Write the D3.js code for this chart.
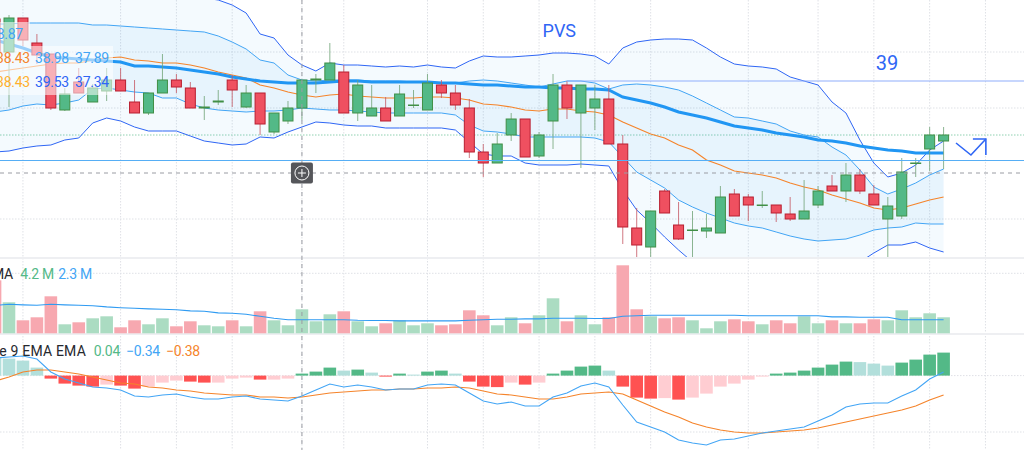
<!DOCTYPE html>
<html>
<head>
<meta charset="utf-8">
<script src="https://cdn.jsdelivr.net/npm/d3@7"></script>
<style>
  html, body { margin: 0; padding: 0; background: #fff; overflow: hidden; }
  svg { display: block; font-family: Roboto, sans-serif; }
</style>
</head>
<body>
<div id="chart"></div>
<script>
// bar numbers start at -1, the first candle is cut off by the left edge
const opens = [42.02,41.36,42.04,41.54,41.32,40.20,40.76,40.36,40.58,40.80,40.36,40.14,40.54,40.80,40.64,40.24,40.36,40.80,40.26,40.54,39.76,39.98,40.24,40.80,40.80,40.96,40.14,40.08,40.24,40.08,40.30,40.20,40.70,40.54,40.24,39.36,39.14,39.70,40.02,39.28,39.98,40.70,40.14,40.24,40.42,39.52,37.84,37.46,38.58,37.90,37.80,37.78,37.74,38.52,38.46,38.30,38.30,38.12,38.02,38.30,38.68,38.58,38.90,38.52,38.02,38.08,39.14,39.42,39.58];
const closes = [41.36,42.04,41.60,41.30,40.24,40.52,40.54,40.64,40.80,40.58,40.14,40.54,40.80,40.66,40.24,40.26,40.38,40.60,40.54,39.92,40.14,40.24,40.80,40.82,41.14,40.14,40.70,40.24,39.98,40.52,40.30,40.74,40.54,40.30,39.36,39.14,39.52,40.02,39.26,39.70,40.70,40.24,40.70,40.42,39.52,37.86,37.50,38.18,38.14,37.62,37.80,37.84,38.46,38.08,38.30,38.30,38.14,38.02,38.18,38.58,38.58,38.90,38.58,38.30,38.28,38.96,39.14,39.70,39.70];
const highs = [42.50,42.10,42.04,41.72,41.32,40.64,41.04,40.72,41.04,41.04,40.80,40.54,41.32,40.92,40.76,40.48,40.60,40.90,40.70,40.54,40.14,40.38,40.80,40.92,41.54,41.10,40.80,40.70,40.46,40.70,40.60,40.92,40.80,40.70,40.42,39.52,39.74,40.14,40.02,39.76,40.92,40.78,40.70,40.70,40.70,39.70,38.24,38.18,38.62,38.36,38.18,38.12,38.68,38.62,38.52,38.58,38.30,38.46,38.80,38.68,38.90,39.14,39.02,38.70,38.46,39.24,39.24,39.86,39.86];
const lows = [41.24,40.26,41.48,41.12,40.20,40.18,40.54,40.36,40.38,40.58,40.14,40.10,40.54,40.54,40.24,40.00,40.30,40.26,40.24,39.70,39.72,39.92,40.00,40.54,40.80,40.14,39.98,40.08,39.98,40.08,40.24,40.20,40.44,40.20,39.24,38.86,39.14,39.58,39.26,39.24,39.42,40.02,39.04,39.80,39.52,37.52,37.26,37.20,38.14,37.60,37.20,37.64,37.74,38.08,37.98,38.24,37.96,37.98,38.02,38.24,38.58,38.36,38.52,38.30,37.20,38.02,38.86,38.98,39.02];

const upperOuter = [43.20,43.12,43.06,43.00,42.94,42.88,42.82,42.78,42.74,42.70,42.64,42.60,42.56,42.52,42.48,42.44,42.40,42.30,42.14,41.72,41.64,41.30,41.10,40.98,41.14,41.10,41.10,41.08,41.06,41.08,41.06,41.10,41.06,41.04,41.18,41.28,41.26,41.26,41.28,41.30,41.34,41.34,41.32,41.28,41.12,41.44,41.56,41.60,41.62,41.62,41.60,41.44,41.26,41.12,41.08,41.06,41.02,40.86,40.78,40.70,40.36,40.14,39.60,39.14,38.86,38.94,39.10,39.40,39.58];
const upperInner = [41.92,41.92,41.94,41.94,41.94,41.94,41.94,41.90,41.90,41.88,41.86,41.84,41.82,41.80,41.78,41.76,41.68,41.56,41.42,41.20,41.14,40.90,40.80,40.78,40.80,40.80,40.80,40.78,40.78,40.78,40.76,40.76,40.74,40.74,40.78,40.80,40.78,40.74,40.70,40.66,40.72,40.78,40.78,40.74,40.62,40.70,40.72,40.70,40.66,40.60,40.48,40.34,40.20,40.06,40.04,39.98,39.92,39.78,39.70,39.66,39.46,39.30,39.00,38.66,38.52,38.62,38.74,38.90,39.02];
const basis = [40.96,41.00,41.04,41.08,41.12,41.14,41.14,41.20,41.24,41.26,41.20,41.18,41.14,41.14,41.10,41.04,40.96,40.90,40.84,40.70,40.64,40.56,40.50,40.46,40.50,40.52,40.48,40.46,40.44,40.44,40.44,40.46,40.46,40.44,40.40,40.32,40.30,40.26,40.20,40.18,40.22,40.22,40.18,40.16,40.10,39.96,39.84,39.72,39.64,39.50,39.40,39.20,39.10,38.98,38.94,38.90,38.84,38.74,38.66,38.60,38.50,38.42,38.34,38.24,38.20,38.24,38.32,38.40,38.46];
const lowerInner = [40.16,40.20,40.28,40.32,40.30,40.34,40.40,40.62,40.64,40.60,40.56,40.54,40.44,40.44,40.32,40.24,40.20,40.18,40.16,40.18,40.18,40.20,40.24,40.22,40.20,40.20,40.18,40.16,40.14,40.14,40.14,40.14,40.14,40.10,39.90,39.78,39.76,39.72,39.66,39.66,39.66,39.66,39.66,39.64,39.56,39.26,38.96,38.80,38.64,38.40,38.26,38.14,38.04,37.94,37.88,37.84,37.76,37.68,37.62,37.58,37.60,37.62,37.70,37.80,37.84,37.86,37.94,37.92,37.92];
const lowerOuter = [39.36,39.38,39.44,39.48,39.50,39.60,39.64,39.94,40.04,39.98,39.86,39.78,39.78,39.78,39.68,39.58,39.54,39.50,39.52,39.66,39.64,39.76,39.86,39.96,39.94,39.90,39.88,39.88,39.84,39.84,39.84,39.84,39.84,39.80,39.56,39.32,39.28,39.28,39.14,39.10,39.10,39.10,39.12,39.10,39.08,38.60,38.20,37.94,37.66,37.40,37.16,37.00,36.84,36.72,36.64,36.60,36.56,36.52,36.50,36.48,36.52,36.70,37.16,37.34,37.50,37.50,37.56,37.44,37.36];
const ema = [41.60,41.52,41.44,41.34,41.26,41.24,41.22,41.20,41.18,41.16,41.08,41.08,41.06,41.04,41.00,40.96,40.92,40.86,40.82,40.78,40.76,40.74,40.74,40.74,40.76,40.78,40.78,40.76,40.76,40.76,40.76,40.76,40.74,40.74,40.72,40.70,40.70,40.68,40.66,40.66,40.64,40.64,40.62,40.62,40.60,40.46,40.40,40.34,40.26,40.16,40.10,40.04,39.96,39.88,39.84,39.80,39.74,39.70,39.66,39.60,39.58,39.54,39.48,39.44,39.40,39.38,39.34,39.34,39.34];

// volume in millions
const volumes = [13.25,7.75,3.25,4,9.25,2.25,2.75,3.75,4.25,1.5,3.25,2.25,3.75,1.75,3,2,1.75,3.25,1.75,5.5,3.25,2,6,3,4.75,5.5,3,1.75,2.5,3.25,2,2.5,2,2.25,5.75,4.5,2,4,2.5,4.5,8.75,3,4.5,2.25,4,17,6,4.25,3.75,4,3.25,1.25,3,3.5,3,2.25,3.25,2.5,4.25,2.5,3.25,2.5,2.5,3.5,3.25,5.75,4,5,4];
const volumeMa = [7,7.25,7.1,7,7.25,7.1,7,6.9,6.6,6.4,6.25,6.1,6,5.9,5.6,5.5,5.1,5,4.75,4.25,3.75,3.4,3.4,3.4,3.4,3.4,3.25,3.2,3.2,3.1,3.1,3.1,3.1,3.1,3.25,3.4,3.5,3.5,3.6,3.6,3.75,3.75,3.75,3.7,3.7,4.25,4.4,4.5,4.5,4.5,4.5,4.5,4.5,4.5,4.4,4.4,4.4,4.4,4.4,4.4,4.1,4.1,4,4,4,3.4,3.4,3.4,3.4];

const histogram = [.036,.034,.03,.016,-.006,-.016,-.02,-.022,-.018,-.02,-.026,-.022,-.014,-.01,-.012,-.014,-.014,-.006,-.004,-.008,-.008,-.006,.004,.008,.016,.01,.012,.006,-.002,.004,.002,.008,.01,.004,-.012,-.022,-.023,-.014,-.018,-.014,.004,.01,.018,.02,.01,-.022,-.044,-.046,-.045,-.048,-.044,-.036,-.022,-.016,-.008,-.002,.004,.006,.01,.016,.022,.028,.027,.024,.02,.026,.032,.042,.046];
const macd = [-.312,-.310,-.308,-.314,-.340,-.354,-.362,-.370,-.372,-.376,-.388,-.390,-.386,-.384,-.390,-.394,-.394,-.390,-.388,-.394,-.396,-.398,-.388,-.376,-.364,-.370,-.366,-.370,-.376,-.374,-.374,-.366,-.364,-.366,-.382,-.398,-.404,-.400,-.408,-.408,-.390,-.382,-.368,-.362,-.370,-.406,-.440,-.450,-.460,-.476,-.482,-.486,-.476,-.474,-.468,-.462,-.458,-.454,-.450,-.438,-.426,-.410,-.404,-.402,-.402,-.388,-.376,-.354,-.340];
const signal = [-.358,-.350,-.340,-.336,-.336,-.340,-.344,-.350,-.356,-.362,-.364,-.370,-.372,-.376,-.378,-.382,-.384,-.386,-.386,-.390,-.390,-.392,-.390,-.386,-.382,-.380,-.378,-.376,-.376,-.374,-.374,-.372,-.372,-.370,-.372,-.378,-.384,-.386,-.390,-.394,-.394,-.390,-.384,-.382,-.380,-.384,-.396,-.408,-.420,-.430,-.442,-.450,-.456,-.460,-.462,-.462,-.460,-.458,-.456,-.452,-.446,-.440,-.434,-.428,-.422,-.416,-.408,-.396,-.386];

const timeGrid = [1, 8, 12, 16, 21, 24, 30, 34, 38, 42, 46, 53, 58, 62, 66, 70];
const priceGrid = [41.36, 40.24, 38.02];
const lastPrice = 39.70;
const crosshairBar = 21;
const crosshairPrice = 38.94;
const levelFull = 39.19;
const levelRight = 40.78;
const levelRightStart = 40;
const volumeGrid = 15;
const macdGrid = -0.46;

const arrowBars = [67.89, 68.96, 70.03];
const arrowPrices = [39.54, 39.30, 39.62];
const arrowHeadBars = [69.1, 70.03, 70.03];
const arrowHeadPrices = [39.62, 39.62, 39.30];

const bars = opens.map((o, i) => i - 1);

const svgWidth = 1024;
const svgHeight = 450;

const svg = d3.select("#chart")
  .append("svg")
  .attr("width", svgWidth)
  .attr("height", svgHeight);

// Scales, one per pane
const xScale = d3.scaleLinear().domain([0, 67]).range([9, 943.6]);
const yPrice = d3.scaleLinear().domain([42.4, 37.24]).range([0, 258]);
const yVolume = d3.scaleLinear().domain([0, 20]).range([333.3, 253.3]);
const yHist = d3.scaleLinear().domain([0, 0.1]).range([375.6, 325.6]);
const yMacd = d3.scaleLinear().domain([-0.34, -0.54]).range([372, 472]);

svg.append("defs").append("clipPath")
  .attr("id", "mainClip")
  .append("rect")
  .attr("width", svgWidth)
  .attr("height", 257);

const gridColor = "#dfe1e6";

// Grid
svg.selectAll("line.vgrid")
  .data(timeGrid)
  .enter()
  .append("line")
  .attr("class", "vgrid")
  .attr("x1", d => xScale(d))
  .attr("x2", d => xScale(d))
  .attr("y1", 0)
  .attr("y2", svgHeight)
  .attr("stroke", gridColor)
  .attr("stroke-dasharray", "1.5 1.5");

const hGrid = priceGrid.map(yPrice).concat([yVolume(volumeGrid), yHist(0), yMacd(macdGrid)]);
svg.selectAll("line.hgrid")
  .data(hGrid)
  .enter()
  .append("line")
  .attr("class", "hgrid")
  .attr("x1", 0)
  .attr("x2", svgWidth)
  .attr("y1", d => d)
  .attr("y2", d => d)
  .attr("stroke", gridColor)
  .attr("stroke-dasharray", "1.5 1.5");

svg.append("line")
  .attr("x1", 0).attr("x2", svgWidth)
  .attr("y1", yPrice(lastPrice)).attr("y2", yPrice(lastPrice))
  .attr("stroke", "#8fd0b0")
  .attr("stroke-dasharray", "1.5 1.5");

// Pane separators
[258, 334].forEach(y => {
  svg.append("line")
    .attr("x1", 0).attr("x2", svgWidth)
    .attr("y1", y).attr("y2", y)
    .attr("stroke", "#eeeff2")
    .attr("stroke-width", 2);
});

const main = svg.append("g").attr("clip-path", "url(#mainClip)");

// Bollinger fills
const bandArea = (top, bottom) => d3.area()
  .x((d, i) => xScale(bars[i]))
  .y0((d, i) => yPrice(bottom[i]))
  .y1((d, i) => yPrice(top[i]));

main.append("path")
  .attr("d", bandArea(upperOuter, lowerOuter)(bars))
  .attr("fill", "#2196f3")
  .attr("opacity", 0.05);
main.append("path")
  .attr("d", bandArea(upperInner, lowerInner)(bars))
  .attr("fill", "#2196f3")
  .attr("opacity", 0.06);

const priceLine = d3.line()
  .x((d, i) => xScale(bars[i]))
  .y(d => yPrice(d));

[
  [upperOuter, "#2f66f5", 1],
  [lowerOuter, "#2f66f5", 1],
  [upperInner, "#42a5f5", 1],
  [lowerInner, "#42a5f5", 1],
  [basis, "#f5842b", 1.2],
  [ema, "#2196f3", 3]
].forEach(s => {
  main.append("path")
    .attr("d", priceLine(s[0]))
    .attr("fill", "none")
    .attr("stroke", s[1])
    .attr("stroke-width", s[2]);
});

// Drawn levels
svg.append("line")
  .attr("x1", 0).attr("x2", svgWidth)
  .attr("y1", yPrice(levelFull)).attr("y2", yPrice(levelFull))
  .attr("stroke", "#56aef5");
svg.append("line")
  .attr("x1", xScale(levelRightStart)).attr("x2", svgWidth)
  .attr("y1", yPrice(levelRight)).attr("y2", yPrice(levelRight))
  .attr("stroke", "#90aefc")
  .attr("stroke-width", 1.2);

// Candles
const candles = main.selectAll("g.candle")
  .data(bars)
  .enter()
  .append("g")
  .attr("class", "candle");

const isUp = i => closes[i] >= opens[i];

candles.append("line")
  .attr("x1", d => xScale(d))
  .attr("x2", d => xScale(d))
  .attr("y1", (d, i) => yPrice(highs[i]))
  .attr("y2", (d, i) => yPrice(lows[i]))
  .attr("stroke", (d, i) => isUp(i) ? "#6fa276" : "#c45662")
  .attr("stroke-opacity", 0.8);

candles.append("rect")
  .attr("x", d => xScale(d) - 5)
  .attr("width", 10)
  .attr("y", (d, i) => yPrice(Math.max(opens[i], closes[i])))
  .attr("height", (d, i) => Math.max(0.5, Math.abs(yPrice(opens[i]) - yPrice(closes[i]))))
  .attr("fill", (d, i) => isUp(i) ? "#53b987" : "#ef5060")
  .attr("stroke", (d, i) => isUp(i) ? "#418f46" : "#b81f30");

// Volume
svg.selectAll("rect.vol")
  .data(bars)
  .enter()
  .append("rect")
  .attr("class", "vol")
  .attr("x", d => xScale(d) - 6.3)
  .attr("width", 12.6)
  .attr("y", (d, i) => yVolume(volumes[i]))
  .attr("height", (d, i) => yVolume(0) - yVolume(volumes[i]))
  .attr("fill", (d, i) => isUp(i) ? "#abdcc2" : "#f7a8b0");

svg.append("path")
  .attr("d", d3.line().x((d, i) => xScale(bars[i])).y(d => yVolume(d))(volumeMa))
  .attr("fill", "none")
  .attr("stroke", "#2f9bf2")
  .attr("stroke-width", 1.1);

// MACD histogram, colour follows sign and direction
const histColor = i => {
  const v = histogram[i];
  const prev = i > 0 ? histogram[i - 1] : v;
  if (v >= 0) return v > prev ? "#53b987" : "#b2dfdb";
  return v < prev ? "#ff5252" : "#ffcdd2";
};

svg.selectAll("rect.hist")
  .data(bars)
  .enter()
  .append("rect")
  .attr("class", "hist")
  .attr("x", d => xScale(d) - 6.3)
  .attr("width", 12.6)
  .attr("y", (d, i) => Math.min(yHist(0), yHist(histogram[i])))
  .attr("height", (d, i) => Math.abs(yHist(histogram[i]) - yHist(0)))
  .attr("fill", (d, i) => histColor(i));

const macdLine = d3.line().x((d, i) => xScale(bars[i])).y(d => yMacd(d));
svg.append("path")
  .attr("d", macdLine(signal))
  .attr("fill", "none")
  .attr("stroke", "#f5842b")
  .attr("stroke-width", 1.2);
svg.append("path")
  .attr("d", macdLine(macd))
  .attr("fill", "none")
  .attr("stroke", "#42a5f5")
  .attr("stroke-width", 1.1);

// Crosshair
svg.append("line")
  .attr("x1", xScale(crosshairBar)).attr("x2", xScale(crosshairBar))
  .attr("y1", 0).attr("y2", svgHeight)
  .attr("stroke", "#9a9ca3")
  .attr("stroke-dasharray", "4 4");
svg.append("line")
  .attr("x1", 0).attr("x2", svgWidth)
  .attr("y1", yPrice(crosshairPrice)).attr("y2", yPrice(crosshairPrice))
  .attr("stroke", "#9a9ca3")
  .attr("stroke-dasharray", "4 4");

const plus = svg.append("g")
  .attr("transform", `translate(${xScale(crosshairBar)}, ${yPrice(crosshairPrice)})`);
plus.append("rect")
  .attr("x", -11).attr("y", -10.5)
  .attr("width", 22).attr("height", 21)
  .attr("rx", 2)
  .attr("fill", "#55565a");
plus.append("circle")
  .attr("r", 7)
  .attr("fill", "none")
  .attr("stroke", "#fff");
plus.append("path")
  .attr("d", "M-4,0H4M0,-4V4")
  .attr("stroke", "#fff");

// Arrow drawing
const arrowLine = d3.line().x(d => xScale(d[0])).y(d => yPrice(d[1]));
[d3.zip(arrowBars, arrowPrices), d3.zip(arrowHeadBars, arrowHeadPrices)].forEach(pts => {
  svg.append("path")
    .attr("d", arrowLine(pts))
    .attr("fill", "none")
    .attr("stroke", "#2f66f5")
    .attr("stroke-width", 1.6);
});

// Legend backing, washes out the candles behind the values
svg.append("rect")
  .attr("x", 0).attr("y", 46)
  .attr("width", 113).attr("height", 49)
  .attr("fill", "#fff")
  .attr("opacity", 0.55);
svg.append("rect")
  .attr("x", 0).attr("y", 22)
  .attr("width", 30).attr("height", 24)
  .attr("fill", "#fff")
  .attr("opacity", 0.55);

const labels = [
  ["38.87", 23, 39, "#42a5f5"],
  ["38.43", 30, 63, "#f5842b"],
  ["38.98", 69, 63, "#42a5f5"],
  ["37.89", 109, 63, "#42a5f5"],
  ["38.43", 30, 87, "#ffb02e"],
  ["39.53", 69, 87, "#2f66f5"],
  ["37.34", 109, 87, "#2f66f5"],
  ["MA", 13, 279, "#26282e"],
  ["4.2 M", 54, 279, "#53b987"],
  ["2.3 M", 92, 279, "#42a5f5"],
  ["e 9 EMA EMA", 86, 356, "#26282e"],
  ["0.04", 120, 356, "#53b987"],
  ["\u22120.34", 160, 356, "#42a5f5"],
  ["\u22120.38", 200, 356, "#f5842b"]
];

svg.selectAll("text.legend")
  .data(labels)
  .enter()
  .append("text")
  .attr("class", "legend")
  .attr("x", d => d[1])
  .attr("y", d => d[2])
  .attr("text-anchor", "end")
  .attr("fill", d => d[3])
  .style("font-size", "14px")
  .style("letter-spacing", d => /EMA/.test(d[0]) ? "0.2px" : "-0.25px")
  .text(d => d[0]);

svg.append("text")
  .attr("x", xScale(39.45))
  .attr("y", yPrice(41.66))
  .attr("text-anchor", "middle")
  .attr("fill", "#2f66f5")
  .style("font-size", "18px")
  .text("PVS");

svg.append("text")
  .attr("x", xScale(62.94))
  .attr("y", yPrice(41.0))
  .attr("text-anchor", "middle")
  .attr("fill", "#2f66f5")
  .style("font-size", "20px")
  .text("39");
</script>
</body>
</html>
